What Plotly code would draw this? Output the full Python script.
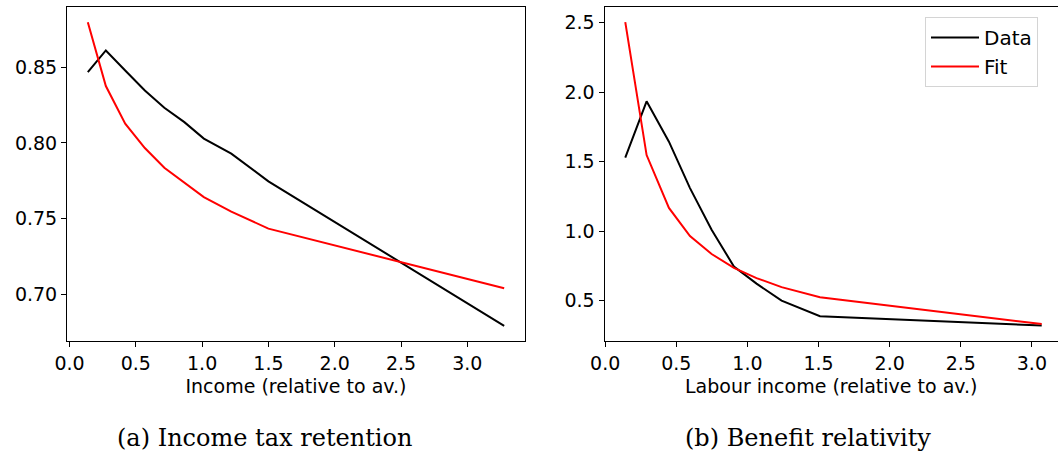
import plotly.graph_objects as go

# Panel (a): Income tax retention
income_x = [0.138, 0.274, 0.420, 0.568, 0.715, 0.866, 1.013, 1.220, 1.500, 3.278]
tax_data = [0.8467, 0.8610, 0.8478, 0.8346, 0.8232, 0.8137, 0.8028, 0.7929, 0.7746, 0.6792]
tax_fit = [0.8797, 0.8375, 0.8127, 0.7966, 0.7836, 0.7735, 0.7642, 0.7546, 0.7434, 0.7040]

# Panel (b): Benefit relativity
labour_x = [0.141, 0.291, 0.448, 0.596, 0.748, 0.905, 1.064, 1.240, 1.510, 3.069]
ben_data = [1.529, 1.935, 1.644, 1.310, 1.010, 0.745, 0.622, 0.500, 0.388, 0.320]
ben_fit = [2.505, 1.548, 1.167, 0.965, 0.835, 0.735, 0.662, 0.597, 0.524, 0.331]

ticks_x = [0.0, 0.5, 1.0, 1.5, 2.0, 2.5, 3.0]
ticks_x_text = ["0.0", "0.5", "1.0", "1.5", "2.0", "2.5", "3.0"]
ticks_a_y = [0.70, 0.75, 0.80, 0.85]
ticks_a_y_text = ["0.70", "0.75", "0.80", "0.85"]
ticks_b_y = [0.5, 1.0, 1.5, 2.0, 2.5]
ticks_b_y_text = ["0.5", "1.0", "1.5", "2.0", "2.5"]

W, H = 1058, 455
fig = go.Figure()

fig.add_trace(go.Scatter(x=income_x, y=tax_data, mode="lines", line=dict(color="black", width=2),
                         name="Data", showlegend=False, xaxis="x", yaxis="y"))
fig.add_trace(go.Scatter(x=income_x, y=tax_fit, mode="lines", line=dict(color="#ff0000", width=2),
                         name="Fit", showlegend=False, xaxis="x", yaxis="y"))
fig.add_trace(go.Scatter(x=labour_x, y=ben_data, mode="lines", line=dict(color="black", width=2),
                         name="Data", xaxis="x2", yaxis="y2"))
fig.add_trace(go.Scatter(x=labour_x, y=ben_fit, mode="lines", line=dict(color="#ff0000", width=2),
                         name="Fit", xaxis="x2", yaxis="y2"))

font_tick = dict(family="DejaVu Sans", size=19, color="black")
ydom = [1 - 341 / H, 1 - 7 / H]

common_x = dict(showline=True, linecolor="black", linewidth=1, ticks="outside", ticklen=5,
                tickwidth=1, tickcolor="black", showgrid=False, zeroline=False,
                tickfont=font_tick, tickmode="array", tickvals=ticks_x, ticktext=ticks_x_text,
                title_font=font_tick, title_standoff=6, automargin=False)
common_y = dict(showline=True, linecolor="black", linewidth=1, ticks="outside", ticklen=5,
                tickwidth=1, tickcolor="black", showgrid=False, zeroline=False,
                tickfont=font_tick, tickmode="array", automargin=False)

fig.update_layout(
    width=W, height=H,
    margin=dict(l=0, r=0, t=0, b=0, autoexpand=False),
    paper_bgcolor="white", plot_bgcolor="white",
    xaxis=dict(common_x, domain=[67 / W, 525 / W], range=[-0.019, 3.435], mirror=True,
               anchor="y", title_text="Income (relative to av.)"),
    yaxis=dict(common_y, domain=ydom, range=[0.6692, 0.8897], mirror=True, anchor="x",
               tickvals=ticks_a_y, ticktext=ticks_a_y_text),
    xaxis2=dict(common_x, domain=[604.5 / W, 1.0], range=[-0.005, (W - 605.3) / 142.2], mirror=True,
                anchor="y2", title_text="Labour income (relative to av.)"),
    yaxis2=dict(common_y, domain=ydom, range=[0.209, 2.614], mirror=False, anchor="x2",
                tickvals=ticks_b_y, ticktext=ticks_b_y_text),
    legend=dict(x=925 / W, y=1 - 17 / H, xanchor="left", yanchor="top",
                bordercolor="#d4d4d4", borderwidth=1, bgcolor="white", itemwidth=48,
                font=dict(family="DejaVu Sans", size=20, color="black")),
    annotations=[
        dict(text="(a) Income tax retention", x=264 / W, y=1 - 438 / H, xref="paper", yref="paper",
             xanchor="center", yanchor="middle", showarrow=False,
             font=dict(family="DejaVu Serif", size=24, color="black")),
        dict(text="(b) Benefit relativity", x=808 / W, y=1 - 438 / H, xref="paper", yref="paper",
             xanchor="center", yanchor="middle", showarrow=False,
             font=dict(family="DejaVu Serif", size=24, color="black")),
    ],
)

fig.write_html("out.html", config={"displayModeBar": False},
               post_script="document.body.style.margin='0';document.body.style.overflow='hidden';")
